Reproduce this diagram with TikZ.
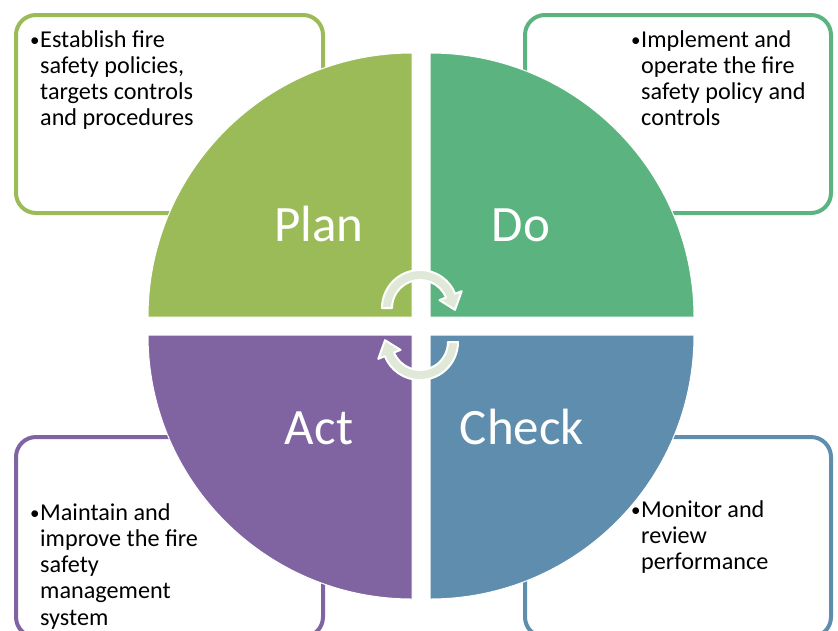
\documentclass[tikz,border=0pt]{standalone}
\usepackage{fontspec}
\setmainfont{Carlito}
\usetikzlibrary{calc}
\definecolor{planc}{HTML}{9BBB59}
\definecolor{doc}{HTML}{5BB47F}
\definecolor{checkc}{HTML}{5F8DAD}
\definecolor{actc}{HTML}{8064A2}
\definecolor{arrowc}{HTML}{E0E8D8}
\tikzset{
  infobox/.style={draw=#1, line width=4pt, rounded corners=20pt, fill=white, minimum width=307pt, inner sep=0pt},
  quad/.style={fill=#1, draw=white, line width=1pt},
  bigtext/.style={text=white, font=\fontsize{51pt}{60pt}\selectfont, anchor=base, inner sep=0pt},
  infotext/.style={anchor=base west, inner sep=0pt, text=black},
  cyc/.style={fill=arrowc, draw=white, line width=2pt, line join=round}
}
\newcommand\bulletlines[1]{\parbox[t]{260pt}{\fontsize{24.2pt}{26.3pt}\selectfont\hangindent=10pt\hangafter=1 \makebox[10pt][l]{\raisebox{1pt}{\fontsize{19pt}{20pt}\selectfont •}}#1}}
\newcommand\cyclearrowpath{%
  \path[cyc] (180:38) arc[start angle=180, end angle=338, radius=38]
    -- (338:45) -- (3:35) -- (338:21) -- (338:28)
    arc[start angle=338, end angle=180, radius=28] -- cycle;}
\begin{document}
\begin{tikzpicture}[x=1pt, y=-1pt]
\useasboundingbox (0,0) rectangle (838,630);
\clip (0,0) rectangle (838,630);
% boxes
\node[infobox=planc, minimum height=198pt] (planbox) at (169.5,114) {};
\node[infobox=doc, minimum height=198pt, minimum width=306pt] (dobox) at (678,114) {};
\node[infobox=actc, minimum height=200pt] (actbox) at (169.5,537) {};
\node[infobox=checkc, minimum height=200pt, minimum width=306pt] (checkbox) at (678,537) {};
% quadrants
\path[quad=planc] (412,317) -- (148,317) arc[start angle=180, end angle=270, radius=264] -- cycle;
\path[quad=doc] (430,317) -- (430,53) arc[start angle=270, end angle=360, radius=264] -- cycle;
\path[quad=checkc] (430,335) -- (694,335) arc[start angle=0, end angle=90, radius=264] -- cycle;
\path[quad=actc] (412,335) -- (412,599) arc[start angle=90, end angle=180, radius=264] -- cycle;
% labels
\node[bigtext] (plan) at (319,241) {Plan};
\node[bigtext] (do) at (521,241) {Do};
\node[bigtext] (act) at (319,444) {Act};
\node[bigtext] (check) at (522,444) {Check};
% cycle arrows
\begin{scope}[shift={(420,308)}]
\cyclearrowpath
\end{scope}
\begin{scope}[shift={(420,342)}, rotate=180]
\cyclearrowpath
\end{scope}
% texts
\node[infotext] (plantext) at (30,47) {\bulletlines{Establish fire\\safety policies,\\targets controls\\and procedures}};
\node[infotext] (dotext) at (631,47) {\bulletlines{Implement and\\operate the fire\\safety policy and\\controls}};
\node[infotext] (acttext) at (30,520) {\bulletlines{Maintain and\\improve the fire\\safety\\management\\system}};
\node[infotext] (checktext) at (631,517) {\bulletlines{Monitor and\\review\\performance}};
\end{tikzpicture}
\end{document}
